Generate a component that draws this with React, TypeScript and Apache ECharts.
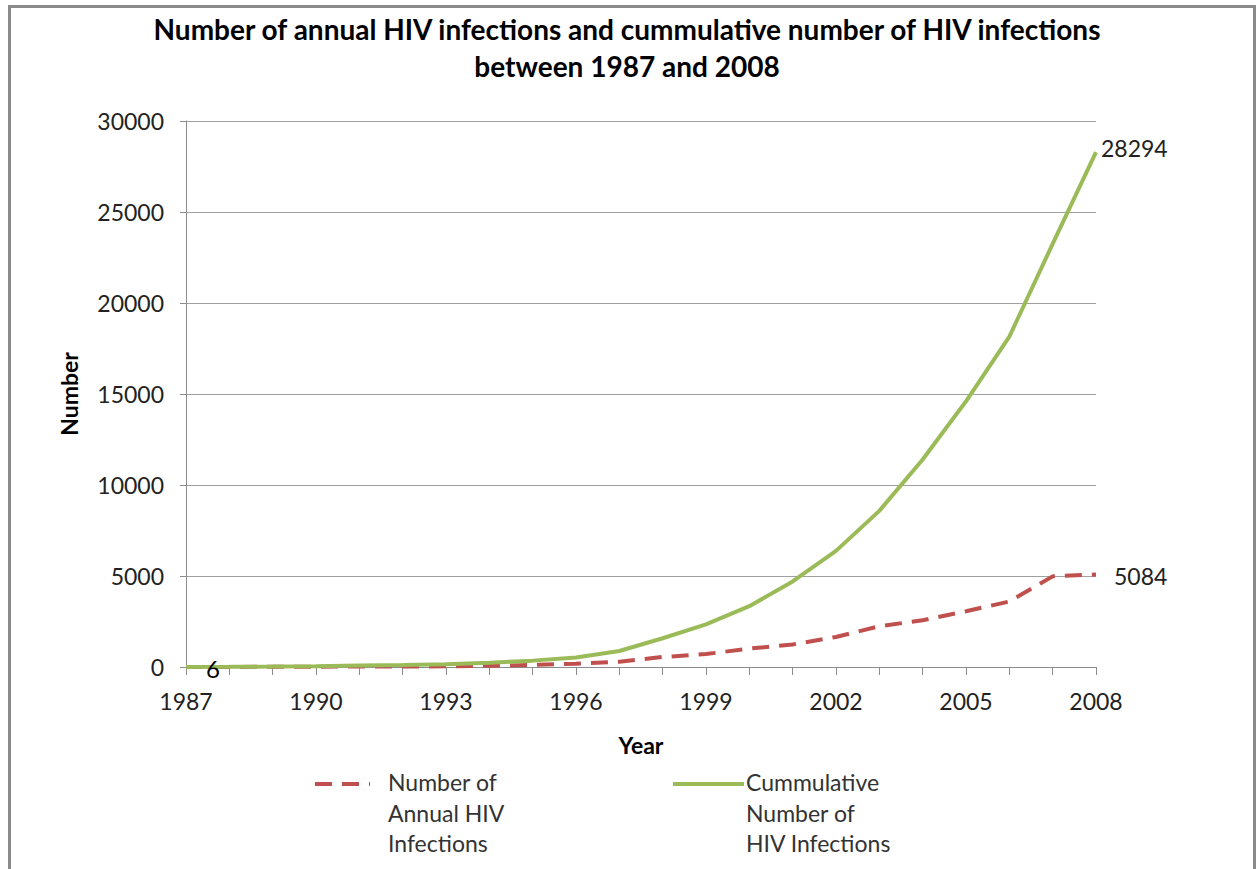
import React, { useEffect, useRef } from "react";
import * as echarts from "echarts";

const years = ["1987","1988","1989","1990","1991","1992","1993","1994","1995","1996","1997","1998","1999","2000","2001","2002","2003","2004","2005","2006","2007","2008"];
const annual = [6, 5, 10, 20, 25, 25, 40, 70, 110, 180, 290, 550, 710, 1010, 1240, 1650, 2240, 2570, 3060, 3600, 4980, 5084];
const cumulative = [6, 12, 25, 45, 80, 110, 150, 230, 350, 520, 880, 1580, 2340, 3340, 4700, 6380, 8580, 11400, 14600, 18150, 23250, 28294];
const yTicks = [0, 5000, 10000, 15000, 20000, 25000, 30000];

const titleText = "Number of annual HIV infections and cummulative number of HIV infections\nbetween 1987 and 2008";
const annualName = "Number of\nAnnual HIV\nInfections";
const cumulativeName = "Cummulative\nNumber of\nHIV Infections";

const FONT = "Lato, 'Open Sans', sans-serif";
const RED = "#c0504d";
const GREEN = "#9bbb59";

export default function App() {
  const ref = useRef<HTMLDivElement>(null);
  useEffect(() => {
    if (!ref.current) return;
    const chart = echarts.init(ref.current, undefined, { renderer: "svg" });
    const last = years.length - 1;
    chart.setOption({
      animation: false,
      backgroundColor: "#ffffff",
      textStyle: { fontFamily: FONT },
      title: {
        text: titleText,
        left: 622,
        textAlign: "center",
        top: 5,
        textStyle: { fontFamily: FONT, fontSize: 28, fontWeight: "bold", color: "#000", lineHeight: 37 },
      },
      grid: { left: 186, right: 162, top: 121, bottom: 202, outerBoundsMode: "none", containLabel: false },
      xAxis: {
        type: "category",
        data: years,
        boundaryGap: false,
        name: "Year",
        nameLocation: "middle",
        nameGap: 66,
        nameTextStyle: { fontFamily: FONT, fontSize: 23, fontWeight: "bold", color: "#000" },
        axisLine: { lineStyle: { color: "#8c8c8c", width: 1 } },
        axisTick: { show: true, length: 8, interval: 0, lineStyle: { color: "#8c8c8c" } },
        axisLabel: {
          interval: 2,
          margin: 22,
          fontSize: 23,
          color: "#222",
          fontFamily: FONT,
        },
        splitLine: { show: false },
      },
      yAxis: {
        type: "value",
        min: 0,
        max: 30000,
        interval: 5000,
        name: "Number",
        nameLocation: "middle",
        nameGap: 106,
        nameRotate: 90,
        nameTextStyle: { fontFamily: FONT, fontSize: 23, fontWeight: "bold", color: "#000" },
        axisLine: { show: true, lineStyle: { color: "#8c8c8c", width: 1 } },
        axisTick: { show: true, length: 6, lineStyle: { color: "#8c8c8c" } },
        axisLabel: {
          margin: 22,
          fontSize: 23,
          color: "#222",
          fontFamily: FONT,
          formatter: (v: number) => (yTicks.includes(v) ? String(v) : ""),
        },
        splitLine: { show: true, lineStyle: { color: "#a0a0a0", width: 1 } },
      },
      series: [
        {
          name: "Number of Annual HIV Infections",
          type: "line",
          data: annual.map((v, i) => ({
            value: v,
            label: i === last
              ? {
                  show: true,
                  position: "right",
                  distance: 18,
                  fontSize: 23,
                  color: "#222",
                  fontFamily: FONT,
                  offset: [0, 2],
                }
              : { show: false },
          })),
          showSymbol: true,
          symbol: "circle",
          symbolSize: 0.01,
          lineStyle: { color: RED, width: 4, type: [17, 10] },
          itemStyle: { color: RED },
          z: 2,
        },
        {
          name: "Cummulative Number of HIV Infections",
          type: "line",
          data: cumulative.map((v, i) => ({
            value: v,
            label: i === last
              ? { show: true, position: "right", distance: 5, fontSize: 23, color: "#222", fontFamily: FONT, offset: [0, -4] }
              : i === 0
              ? { show: true, position: "right", distance: 20, fontSize: 24, color: "#000", fontFamily: FONT, offset: [0, 2] }
              : { show: false },
          })),
          showSymbol: true,
          symbol: "circle",
          symbolSize: 0.01,
          lineStyle: { color: GREEN, width: 4 },
          itemStyle: { color: GREEN },
          z: 3,
        },
      ],
      graphic: [
        {
          type: "rect",
          shape: { x: 9.5, y: 6.5, width: 1245, height: 880 },
          style: { fill: "none", stroke: "#8a8a8a", lineWidth: 3 },
          silent: true,
        },
        {
          type: "line",
          shape: { x1: 315, y1: 784, x2: 370, y2: 784 },
          style: { stroke: RED, lineWidth: 4, lineDash: [17, 10] },
        },
        {
          type: "text",
          x: 388,
          y: 767,
          style: { text: annualName, fontFamily: FONT, fontSize: 23, lineHeight: 30.5, fill: "#333" },
        },
        {
          type: "line",
          shape: { x1: 673, y1: 784, x2: 744, y2: 784 },
          style: { stroke: GREEN, lineWidth: 4 },
        },
        {
          type: "text",
          x: 746,
          y: 767,
          style: { text: cumulativeName, fontFamily: FONT, fontSize: 23, lineHeight: 30.5, fill: "#333" },
        },
      ],
    });
    return () => chart.dispose();
  }, []);
  return <div ref={ref} style={{ position: "absolute", left: 0, top: 0, width: 1258, height: 869 }} />;
}
